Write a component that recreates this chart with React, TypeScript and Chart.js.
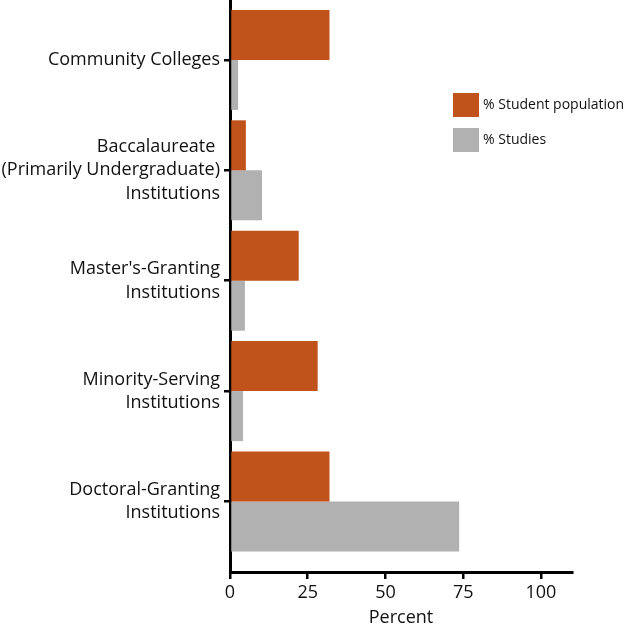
import React, { useEffect, useRef } from "react";
import { Chart, registerables } from "chart.js";

Chart.register(...registerables);

const categories: string[] = [
  "Community Colleges",
  "Baccalaureate \n(Primarily Undergraduate)\nInstitutions",
  "Master's-Granting\nInstitutions",
  "Minority-Serving\nInstitutions",
  "Doctoral-Granting\nInstitutions",
];
const studentPopulation: number[] = [32, 5.1, 22.1, 28.2, 32];
const studies: number[] = [2.6, 10.3, 4.8, 4.2, 73.7];
const xTicks: number[] = [0, 25, 50, 75, 100];
const seriesLabels: string[] = ["% Student population", "% Studies"];
const colors: string[] = ["#C0521C", "#B1B1B1"];

const FONT = "'Open Sans', sans-serif";

const legendPlugin = {
  id: "insideLegend",
  afterDraw(chart: any) {
    const { ctx, chartArea } = chart;
    ctx.save();
    const x = chartArea.right - 119;
    const y0 = 93;
    chart.data.datasets.forEach((ds: any, i: number) => {
      const y = y0 + i * 35;
      ctx.fillStyle = ds.backgroundColor;
      ctx.fillRect(x, y, 26, 24);
      ctx.fillStyle = "#111";
      ctx.font = `14px ${FONT}`;
      ctx.textBaseline = "middle";
      ctx.textAlign = "left";
      ctx.fillText(ds.label, x + 30, y + 12);
    });
    ctx.restore();
  },
};

export default function App() {
  const ref = useRef<HTMLCanvasElement | null>(null);
  useEffect(() => {
    if (!ref.current) return;
    const chart = new Chart(ref.current, {
      type: "bar",
      data: {
        datasets: [
          {
            label: seriesLabels[0],
            data: studentPopulation.map((v, i) => ({ x: v, y: i })),
            backgroundColor: colors[0],
            borderWidth: 0,
          },
          {
            label: seriesLabels[1],
            data: studies.map((v, i) => ({ x: v, y: i })),
            backgroundColor: colors[1],
            borderWidth: 0,
          },
        ],
      },
      plugins: [legendPlugin],
      options: {
        indexAxis: "y",
        animation: false,
        responsive: false,
        maintainAspectRatio: false,
        categoryPercentage: 0.906,
        barPercentage: 1,
        layout: { padding: { top: 0, right: 62, bottom: 0, left: 0 } },
        plugins: {
          legend: { display: false },
          tooltip: { enabled: false },
        },
        scales: {
          y: {
            type: "linear",
            reverse: true,
            offset: false,
            min: -0.543,
            max: 4.639,
            afterBuildTicks: (scale: any) => {
              scale.ticks = categories.map((_, i) => ({ value: i }));
            },
            afterFit: (scale: any) => {
              scale.width = 230;
              scale.paddingTop = 0;
              scale.paddingBottom = 0;
            },
            ticks: {
              autoSkip: false,
              padding: 4,
              color: "#111",
              font: { family: FONT, size: 18, lineHeight: 1.3 },
              callback: (_v: any, i: number) => categories[i].split("\n"),
            },
            grid: {
              display: true,
              offset: false,
              drawOnChartArea: false,
              drawTicks: true,
              tickLength: 6,
              color: "#000",
              lineWidth: 2.5,
            },
            border: { display: true, color: "#000", width: 3 },
          },
          x: {
            type: "linear",
            min: 0,
            max: 110,
            afterBuildTicks: (scale: any) => {
              scale.ticks = xTicks.map((v) => ({ value: v }));
            },
            afterFit: (scale: any) => {
              scale.height = 55;
            },
            ticks: {
              padding: 3,
              color: "#111",
              font: { family: FONT, size: 18 },
            },
            grid: {
              display: true,
              drawOnChartArea: false,
              drawTicks: true,
              tickLength: 7,
              color: "#000",
              lineWidth: 2.5,
            },
            border: { display: true, color: "#000", width: 3 },
            title: {
              display: true,
              text: "Percent",
              color: "#111",
              font: { family: FONT, size: 18, lineHeight: 1 },
              padding: { top: 0, bottom: 0 },
            },
          },
        },
      },
    } as any);
    return () => chart.destroy();
  }, []);
  return (
    <div style={{ position: "fixed", left: 0, top: 0, width: 634, height: 627, background: "#fff" }}>
      <canvas ref={ref} width={634} height={627} style={{ width: 634, height: 627 }} />
    </div>
  );
}
